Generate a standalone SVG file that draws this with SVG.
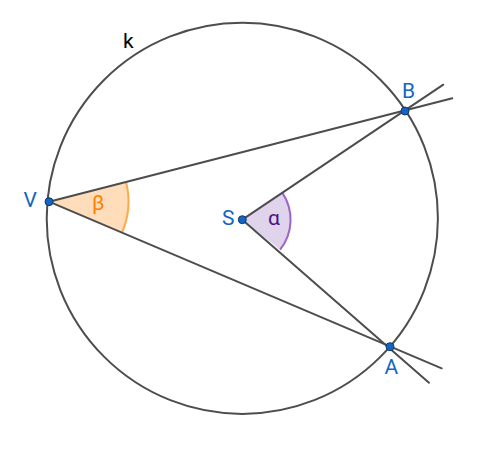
<svg xmlns="http://www.w3.org/2000/svg" width="484" height="452" viewBox="0 0 484 452">
<style>
.ln{stroke:#4d4d4d;stroke-width:2;fill:none;stroke-linecap:round}
.pt{fill:#1565c0;stroke:#0d3a73;stroke-width:1}
.lb{font-family:Roboto,"Liberation Sans",sans-serif;font-size:21px;fill:#1565c0}
</style>
<rect width="484" height="452" fill="#ffffff"/>
<g id="angle-beta">
<path d="M49,201.7 L126.2,182.5 A79.5,79.5 0 0 1 122.4,231.8 Z" fill="#ffd9b3" fill-opacity="0.9" stroke="none"/>
<path d="M126.2,182.5 A79.5,79.5 0 0 1 122.4,231.8" fill="none" stroke="#ffa94d" stroke-width="2"/>
<text class="lb" x="92" y="210" style="fill:#ff8000">β</text>
</g>
<g id="angle-alpha">
<path d="M242.3,219.7 L282.6,193.1 A48.3,48.3 0 0 1 280.1,249.7 Z" fill="#e0d3ec" stroke="none"/>
<path d="M282.6,193.1 A48.3,48.3 0 0 1 280.1,249.7" fill="none" stroke="#9966cc" stroke-width="2"/>
<text class="lb" x="268" y="225" style="fill:#4c1280">α</text>
</g>
<g id="connectors">
<circle class="ln" cx="242.3" cy="218.3" r="195.6"/>
<line class="ln" x1="49" y1="201.7" x2="452.3" y2="98.3"/>
<line class="ln" x1="49" y1="201.7" x2="441.7" y2="368.3"/>
<line class="ln" x1="242.3" y1="219.7" x2="443.3" y2="84.7"/>
<line class="ln" x1="242.3" y1="219.7" x2="429" y2="382.7"/>
</g>
<g id="circle-k"><text x="123" y="48" style="font-family:Roboto,'Liberation Sans',sans-serif;font-size:21px;fill:#000">k</text></g>
<g id="point-V"><circle class="pt" cx="49" cy="201.7" r="4"/><text class="lb" x="23.5" y="207">V</text></g>
<g id="point-S"><circle class="pt" cx="242.3" cy="219.7" r="4"/><text class="lb" x="222" y="225">S</text></g>
<g id="point-B"><circle class="pt" cx="405" cy="111" r="4"/><text class="lb" x="402" y="97.5">B</text></g>
<g id="point-A"><circle class="pt" cx="390" cy="346.7" r="4"/><text class="lb" x="384.5" y="373.5">A</text></g>
</svg>
